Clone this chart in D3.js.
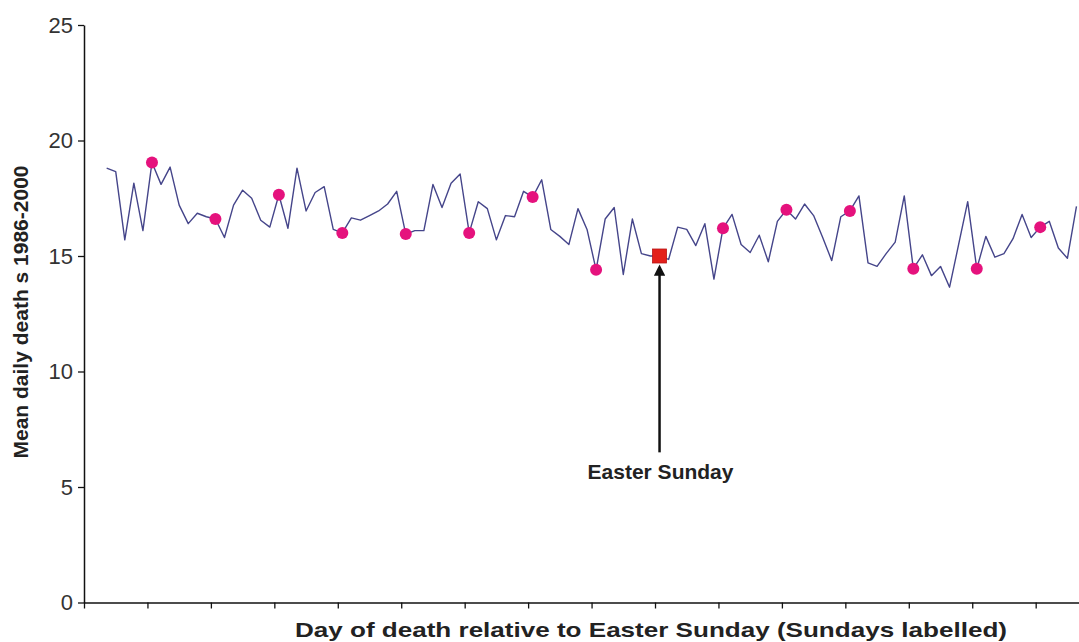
<!DOCTYPE html>
<html>
<head>
<meta charset="utf-8">
<script src="https://cdn.jsdelivr.net/npm/d3@7"></script>
<style>
  body { margin: 0; background: #fff; }
  svg { display: block; font-family: "Liberation Sans", Arial, sans-serif; }
</style>
</head>
<body>
<div id="vis-container"></div>
<script>
/* DATA */

// day index relative to Easter Sunday of the first value
const firstDay = -61;
// mean daily deaths, one per day from firstDay on
const deaths = [
  18.8, 18.65, 15.7, 18.15, 16.1, 19.05, 18.1, 18.85, 17.2, 16.4,
  16.85, 16.7, 16.6, 15.8, 17.2, 17.85, 17.5, 16.55, 16.25, 17.65,
  16.2, 18.8, 16.95, 17.75, 18.0, 16.15, 16.0, 16.65, 16.55, 16.75,
  16.95, 17.25, 17.8, 15.95, 16.1, 16.1, 18.1, 17.1, 18.15, 18.55,
  16.0, 17.35, 17.05, 15.7, 16.75, 16.7, 17.8, 17.55, 18.3, 16.15,
  15.85, 15.5, 17.05, 16.15, 14.4, 16.6, 17.1, 14.2, 16.6, 15.1,
  15.0, 15.0, 14.85, 16.25, 16.15, 15.45, 16.4, 14.0, 16.2, 16.8,
  15.5, 15.15, 15.9, 14.75, 16.5, 17.0, 16.6, 17.25, 16.75, 15.8,
  14.8, 16.7, 16.95, 17.6, 14.7, 14.55, 15.1, 15.6, 17.6, 14.45,
  15.05, 14.15, 14.55, 13.65, 15.5, 17.35, 14.45, 15.85, 14.95, 15.1,
  15.75, 16.8, 15.8, 16.25, 16.5, 15.35, 14.9, 17.15
];
// category range shown on the axis (days)
const dayFirstCat = -63, dayLastCat = 46;
const yTicks = [0, 5, 10, 15, 20, 25];

const xTitle = "Day of death relative to Easter Sunday (Sundays labelled)";
const yTitle = "Mean daily death s 1986-2000";
const easterLabel = "Easter Sunday";

/* CHART */

const width = 1079, height = 642;

let data = deaths.map((v, i) => ({ day: firstDay + i, value: v }));

let x = d3.scaleLinear()
  .domain([dayFirstCat - 0.5, dayLastCat + 0.5])
  .range([84, 1081]);

let y = d3.scaleLinear().domain([0, 25]).range([602.5, 25]);

let svg = d3.select('#vis-container')
  .append('svg')
  .attr('width', width)
  .attr('height', height);

// x axis: ticks on category boundaries every 7 days, no labels
let xTickVals = d3.range(dayFirstCat - 0.5, dayLastCat + 1, 7);
svg.append("g")
  .attr("transform", `translate(0,${y(0)})`)
  .call(d3.axisBottom(x).tickValues(xTickVals).tickSize(6).tickSizeOuter(0).tickFormat(""))
  .call(g => g.select(".domain").attr("stroke", "#111").attr("stroke-width", 1.5))
  .call(g => g.selectAll(".tick line").attr("stroke", "#111").attr("stroke-width", 1.3));

// y axis
svg.append("g")
  .attr("transform", `translate(${x(dayFirstCat - 0.5)},0)`)
  .call(d3.axisLeft(y).tickValues(yTicks).tickSize(6).tickSizeOuter(0).tickPadding(5))
  .call(g => g.select(".domain").attr("stroke", "#111").attr("stroke-width", 1.5))
  .call(g => g.selectAll(".tick line").attr("stroke", "#111").attr("stroke-width", 1.3))
  .call(g => g.selectAll(".tick text")
    .attr("font-size", 22).attr("fill", "#333")
    .attr("font-family", "Liberation Sans, Arial, sans-serif"));

// line
let line = d3.line()
  .x(d => x(d.day))
  .y(d => y(d.value));

svg.append("path")
  .datum(data)
  .attr("fill", "none")
  .attr("stroke", "#45458a")
  .attr("stroke-width", 1.4)
  .attr("stroke-linejoin", "round")
  .attr("d", line);

// Sundays
svg.append("g")
  .selectAll("circle")
  .data(data.filter(d => d.day % 7 === 0 && d.day !== 0))
  .join("circle")
  .attr("cx", d => x(d.day))
  .attr("cy", d => y(d.value))
  .attr("r", 6)
  .attr("fill", "#e5127d");

// Easter Sunday
let easter = data.find(d => d.day === 0);
svg.append("rect")
  .attr("x", x(easter.day) - 7)
  .attr("y", y(easter.value) - 7)
  .attr("width", 14)
  .attr("height", 14)
  .attr("fill", "#e3201b")
  .attr("stroke", "#b81414")
  .attr("stroke-width", 0.8);

// arrow
svg.append("defs").append("marker")
  .attr("id", "head")
  .attr("viewBox", "0 0 10 10")
  .attr("refX", 5).attr("refY", 5)
  .attr("markerWidth", 4.5).attr("markerHeight", 4.5)
  .attr("orient", "auto")
  .append("path")
  .attr("d", "M0,0L10,5L0,10z")
  .attr("fill", "#111");

svg.append("line")
  .attr("x1", x(0)).attr("x2", x(0))
  .attr("y1", y(6.5)).attr("y2", y(easter.value) + 14)
  .attr("stroke", "#111")
  .attr("stroke-width", 2.5)
  .attr("marker-end", "url(#head)");

svg.append("text")
  .attr("x", x(0) + 1)
  .attr("y", y(5.35))
  .attr("text-anchor", "middle")
  .attr("font-size", 21)
  .attr("font-weight", "bold")
  .attr("fill", "#222")
  .text(easterLabel);

// axis titles
svg.append("text")
  .attr("x", 651)
  .attr("y", 637)
  .attr("text-anchor", "middle")
  .attr("font-size", 21)
  .attr("font-weight", "bold")
  .attr("fill", "#222")
  .attr("textLength", 712)
  .attr("lengthAdjust", "spacingAndGlyphs")
  .text(xTitle);

svg.append("text")
  .attr("transform", "translate(28,312) rotate(-90)")
  .attr("text-anchor", "middle")
  .attr("font-size", 21)
  .attr("font-weight", "bold")
  .attr("fill", "#222")
  .text(yTitle);
</script>
</body>
</html>
